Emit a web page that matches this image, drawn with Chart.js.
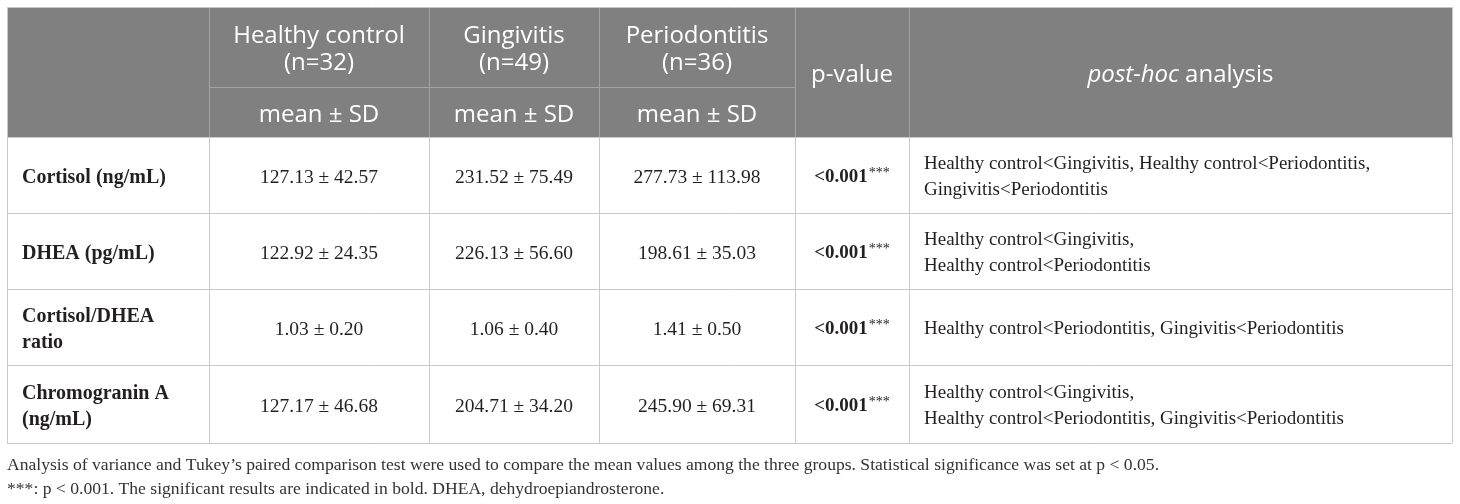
<!DOCTYPE html>
<html>
<head>
<meta charset="utf-8">
<script src="https://cdn.jsdelivr.net/npm/chart.js@4"></script>
<style>
html,body{margin:0;padding:0;background:#fff;}
#wrap{width:1460px;height:504px;}
</style>
</head>
<body>
<div id="wrap"><canvas id="c" width="1460" height="504"></canvas></div>
<script>
// ---------- DATA ----------
const groups = ['Healthy control', 'Gingivitis', 'Periodontitis'];
const groupN = [32, 49, 36];
const statLabel = 'mean ± SD';
const pHeader = 'p-value';
const postHocHeader = ['post-hoc', ' analysis'];
const markers = [
  ['Cortisol (ng/mL)'],
  ['DHEA (pg/mL)'],
  ['Cortisol/DHEA', 'ratio'],
  ['Chromogranin A', '(ng/mL)']
];
const healthyMean = [127.13, 122.92, 1.03, 127.17];
const healthySD   = [42.57, 24.35, 0.20, 46.68];
const gingMean    = [231.52, 226.13, 1.06, 204.71];
const gingSD      = [75.49, 56.60, 0.40, 34.20];
const perioMean   = [277.73, 198.61, 1.41, 245.90];
const perioSD     = [113.98, 35.03, 0.50, 69.31];
const pValues = ['<0.001', '<0.001', '<0.001', '<0.001'];
const pStars  = ['***', '***', '***', '***'];
const postHoc = [
  ['Healthy control<Gingivitis, Healthy control<Periodontitis,', 'Gingivitis<Periodontitis'],
  ['Healthy control<Gingivitis,', 'Healthy control<Periodontitis'],
  ['Healthy control<Periodontitis, Gingivitis<Periodontitis'],
  ['Healthy control<Gingivitis,', 'Healthy control<Periodontitis, Gingivitis<Periodontitis']
];
const footnotes = [
  'Analysis of variance and Tukey\u2019s paired comparison test were used to compare the mean values among the three groups. Statistical significance was set at p < 0.05.',
  '***: p < 0.001. The significant results are indicated in bold. DHEA, dehydroepiandrosterone.'
];

// ---------- LAYOUT (scale units) ----------
const colEdges = [7, 209, 429, 599, 795, 909, 1452];
const rowEdges = [7, 87, 137, 213, 289, 365, 443];
const footY = [463, 487];

const means = [healthyMean, gingMean, perioMean];
const sds = [healthySD, gingSD, perioSD];
const fmt = v => v.toFixed(2);

const SANS = '"Open Sans", "Noto Sans", sans-serif';
const SERIF = '"Liberation Serif", "DejaVu Serif", serif';

const tablePlugin = {
  id: 'tablePlugin',
  afterDraw(chart) {
    const ctx = chart.ctx;
    const xs = chart.scales.x, ys = chart.scales.y;
    const X = v => xs.getPixelForValue(v);
    const Y = v => ys.getPixelForValue(v);
    const cx = i => (X(colEdges[i]) + X(colEdges[i + 1])) / 2;
    const cy = (a, b) => (Y(rowEdges[a]) + Y(rowEdges[b])) / 2;
    const crisp = v => Math.round(v) + 0.5;
    ctx.save();

    // header background
    ctx.fillStyle = '#808080';
    ctx.fillRect(X(colEdges[0]), Y(rowEdges[0]), X(colEdges[6]) - X(colEdges[0]), Y(rowEdges[2]) - Y(rowEdges[0]));

    const hline = (y, x0, x1, col) => {
      ctx.strokeStyle = col; ctx.lineWidth = 1;
      ctx.beginPath(); ctx.moveTo(X(x0), crisp(Y(y))); ctx.lineTo(X(x1), crisp(Y(y))); ctx.stroke();
    };
    const vline = (x, y0, y1, col) => {
      ctx.strokeStyle = col; ctx.lineWidth = 1;
      ctx.beginPath(); ctx.moveTo(crisp(X(x)), Y(y0)); ctx.lineTo(crisp(X(x)), Y(y1)); ctx.stroke();
    };
    // header inner lines
    const hdrLine = '#a4a4a4';
    for (let i = 1; i <= 5; i++) vline(colEdges[i], rowEdges[0], rowEdges[2], hdrLine);
    hline(rowEdges[1], colEdges[1], colEdges[4], hdrLine);
    // body lines
    const bodyLine = '#c9c9c9';
    for (let r = 2; r < rowEdges.length; r++) hline(rowEdges[r], colEdges[0], colEdges[6], bodyLine);
    for (let i = 0; i < colEdges.length; i++) vline(colEdges[i], rowEdges[2], rowEdges[6], bodyLine);
    // outer header border
    hline(rowEdges[0], colEdges[0], colEdges[6], bodyLine);
    vline(colEdges[0], rowEdges[0], rowEdges[2], bodyLine);
    vline(colEdges[6], rowEdges[0], rowEdges[2], bodyLine);

    // header text
    ctx.fillStyle = '#ffffff';
    ctx.textBaseline = 'middle';
    ctx.textAlign = 'center';
    ctx.font = '24px ' + SANS;
    const hLH = 27, hOff = 3;
    groups.forEach((g, i) => {
      const c = cy(0, 1) + hOff;
      ctx.fillText(g, cx(i + 1), c - hLH / 2);
      ctx.fillText('(n=' + groupN[i] + ')', cx(i + 1), c + hLH / 2);
      ctx.fillText(statLabel, cx(i + 1), cy(1, 2) + hOff);
    });
    ctx.fillText(pHeader, cx(4), cy(0, 2) + hOff);
    // post-hoc header (italic + regular)
    ctx.font = 'italic 24px ' + SANS;
    const w1 = ctx.measureText(postHocHeader[0]).width;
    ctx.font = '24px ' + SANS;
    const w2 = ctx.measureText(postHocHeader[1]).width;
    let sx = cx(5) - (w1 + w2) / 2;
    ctx.textAlign = 'left';
    ctx.font = 'italic 24px ' + SANS;
    ctx.fillText(postHocHeader[0], sx, cy(0, 2) + hOff);
    ctx.font = '24px ' + SANS;
    ctx.fillText(postHocHeader[1], sx + w1, cy(0, 2) + hOff);

    // body text
    ctx.fillStyle = '#231f20';
    const bLH = 26, bOff = 2.5;
    markers.forEach((lines, r) => {
      const c = cy(r + 2, r + 3) + bOff;
      const y0 = c - (lines.length - 1) * bLH / 2;
      ctx.textAlign = 'left';
      ctx.font = 'bold 20px ' + SERIF;
      lines.forEach((l, k) => ctx.fillText(l, X(colEdges[0]) + 15, y0 + k * bLH));
      // group values
      ctx.textAlign = 'center';
      ctx.font = '19.5px ' + SERIF;
      for (let g = 0; g < 3; g++) {
        ctx.fillText(fmt(means[g][r]) + ' ± ' + fmt(sds[g][r]), cx(g + 1), c);
      }
      // p-value
      ctx.font = 'bold 19px ' + SERIF;
      const pw = ctx.measureText(pValues[r]).width;
      ctx.font = '14px ' + SERIF;
      const sw = ctx.measureText(pStars[r]).width;
      const px = cx(4) - (pw + sw + 1) / 2;
      ctx.textAlign = 'left';
      ctx.font = 'bold 19px ' + SERIF;
      ctx.fillText(pValues[r], px, c);
      ctx.font = '14px ' + SERIF;
      ctx.fillText(pStars[r], px + pw + 1, c - 4);
      // post hoc
      ctx.font = '19px ' + SERIF;
      const ph = postHoc[r];
      const py0 = c - (ph.length - 1) * bLH / 2;
      ph.forEach((l, k) => ctx.fillText(l, X(colEdges[5]) + 15, py0 + k * bLH));
    });

    // footnotes
    ctx.fillStyle = '#333333';
    ctx.font = '17.6px ' + SERIF;
    ctx.textAlign = 'left';
    footnotes.forEach((f, k) => ctx.fillText(f, X(colEdges[0]), Y(footY[k]) + 2));
    ctx.restore();
  }
};

new Chart(document.getElementById('c'), {
  type: 'scatter',
  data: { datasets: [{ data: [], pointRadius: 0 }] },
  options: {
    responsive: false,
    animation: false,
    layout: { padding: 0 },
    plugins: { legend: { display: false }, tooltip: { enabled: false }, title: { display: false } },
    scales: {
      x: { type: 'linear', min: 0, max: 1460, display: false },
      y: { type: 'linear', min: 0, max: 504, reverse: true, display: false }
    }
  },
  plugins: [tablePlugin]
});
</script>
</body>
</html>
